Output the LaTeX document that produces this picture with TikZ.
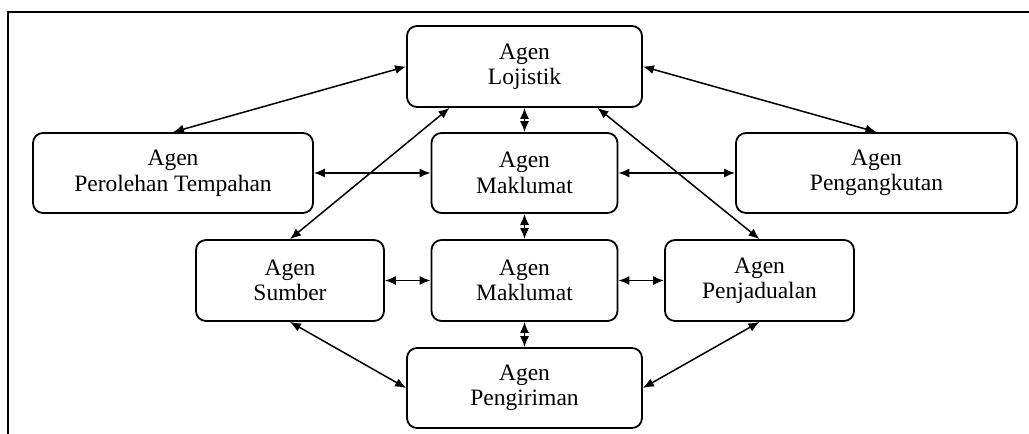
\documentclass[tikz,border=0pt]{standalone}
\usepackage{fontspec}
\setmainfont{Liberation Serif}
\usetikzlibrary{arrows.meta,calc}
\tikzset{
  agent/.style={draw=black, line width=1.8pt, rounded corners=10pt, align=center,
    inner sep=0pt, font=\fontsize{23.5}{25.5}\selectfont},
  link/.style={line width=1.5pt, {Latex[length=11pt,width=9pt]}-{Latex[length=11pt,width=9pt]}},
  frame/.style={line width=1.8pt}
}
\begin{document}
\begin{tikzpicture}[x=1pt,y=-1pt]
\useasboundingbox (0,0) rectangle (1029,434);
\coordinate (fa) at (8,434);
\coordinate (fb) at (8,12);
\coordinate (fc) at (1029,12);
\draw[frame] (fa) -- (fb) -- (fc);

\node[agent, minimum width=235pt, minimum height=81pt] (L) at (524.5,66.5) {Agen\\Lojistik};
\node[agent, minimum width=280pt, minimum height=80pt] (P) at (173,173) {Agen\\Perolehan Tempahan};
\node[agent, minimum width=186pt, minimum height=80pt] (M1) at (524.5,173) {Agen\\Maklumat};
\node[agent, minimum width=281pt, minimum height=80pt] (G) at (876.5,173) {Agen\\Pengangkutan};
\node[agent, minimum width=188pt, minimum height=81pt] (S) at (290,280.5) {Agen\\Sumber};
\node[agent, minimum width=186pt, minimum height=81pt] (M2) at (524.5,280.5) {Agen\\Maklumat};
\node[agent, minimum width=189pt, minimum height=81pt] (J) at (759.5,280.5) {Agen\\Penjadualan};
\node[agent, minimum width=235pt, minimum height=80pt] (K) at (524.5,388) {Agen\\Pengiriman};

\draw[link] (L.west) -- (P.north);
\draw[link] (L.east) -- (G.north);
\draw[link] ($(L.south)+(-75,0)$) -- (S.north);
\draw[link] ($(L.south)+(73,0)$) -- (J.north);
\draw[link] (L.south) -- (M1.north);
\draw[link] (P.east) -- (M1.west);
\draw[link] (M1.east) -- (G.west);
\draw[link] (M1.south) -- (M2.north);
\draw[link] (S.east) -- (M2.west);
\draw[link] (M2.east) -- (J.west);
\draw[link] (M2.south) -- (K.north);
\draw[link] (S.south) -- (K.west);
\draw[link] (J.south) -- (K.east);
\end{tikzpicture}
\end{document}
